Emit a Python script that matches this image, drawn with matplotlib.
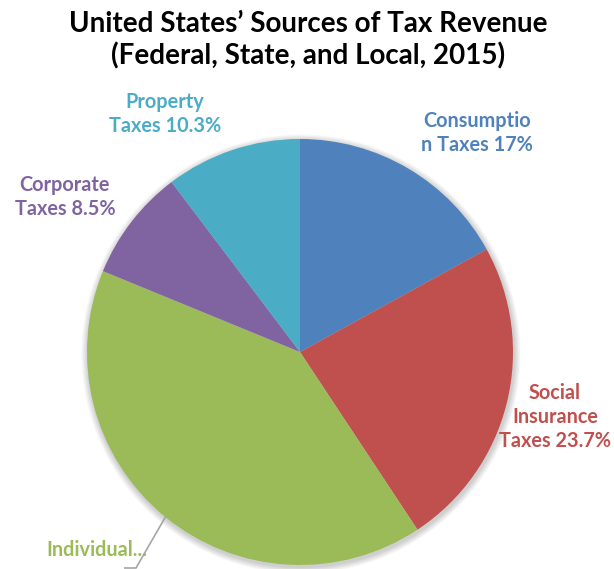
import matplotlib
matplotlib.use("Agg")
import matplotlib.pyplot as plt
from matplotlib.patches import Circle

categories = ["Consumption Taxes", "Social Insurance Taxes", "Individual Income Taxes",
              "Corporate Taxes", "Property Taxes"]
values = [17.0, 23.7, 40.5, 8.5, 10.3]
labels = ["Consumptio\nn Taxes 17%", "Social\nInsurance\nTaxes 23.7%", "Individual...",
          "Corporate\nTaxes 8.5%", "Property\nTaxes 10.3%"]
colors = ["#4F81BD", "#C0504D", "#9BBB59", "#8064A2", "#4BACC6"]

W, H = 614, 569
fig = plt.figure(figsize=(W / 100, H / 100), dpi=100)
ax = fig.add_axes([0, 0, 1, 1])

cx, cy, r = 300, H - 352, 213

# soft shadow
for i in range(8):
    ax.add_patch(Circle((cx + 1, cy - 2), r + 1 + i * 0.8, color="black",
                        alpha=0.025, lw=0, zorder=0))

ax.pie(values, colors=colors, startangle=90, counterclock=False,
       center=(cx, cy), radius=r, wedgeprops=dict(linewidth=0),
       frame=True)

font = "Lato"
lab_pos = [(477, H - 133), (555, H - 417), (97, H - 550), (65, H - 197), (165, H - 114)]
for lab, col, (x, y) in zip(labels, colors, lab_pos):
    ax.text(x, y, lab, color=col, fontsize=14.3, fontweight="bold", family=font,
            ha="center", va="center", linespacing=1.25, zorder=5)

# leader line for Individual
ax.plot([166, 136, 124], [H - 516, H - 568, H - 568], color="#A6A6A6", lw=1.2, zorder=4,
        solid_capstyle="butt")

ax.text(W / 2 + 1, H - 40, "United States\u2019 Sources of Tax Revenue\n(Federal, State, and Local, 2015)",
        ha="center", va="center", fontsize=20, fontweight="bold", family=font,
        color="black", linespacing=1.25)

ax.set_xlim(0, W)
ax.set_ylim(0, H)
ax.set_aspect("auto")
ax.axis("off")
fig.savefig("out.png", dpi=100)
